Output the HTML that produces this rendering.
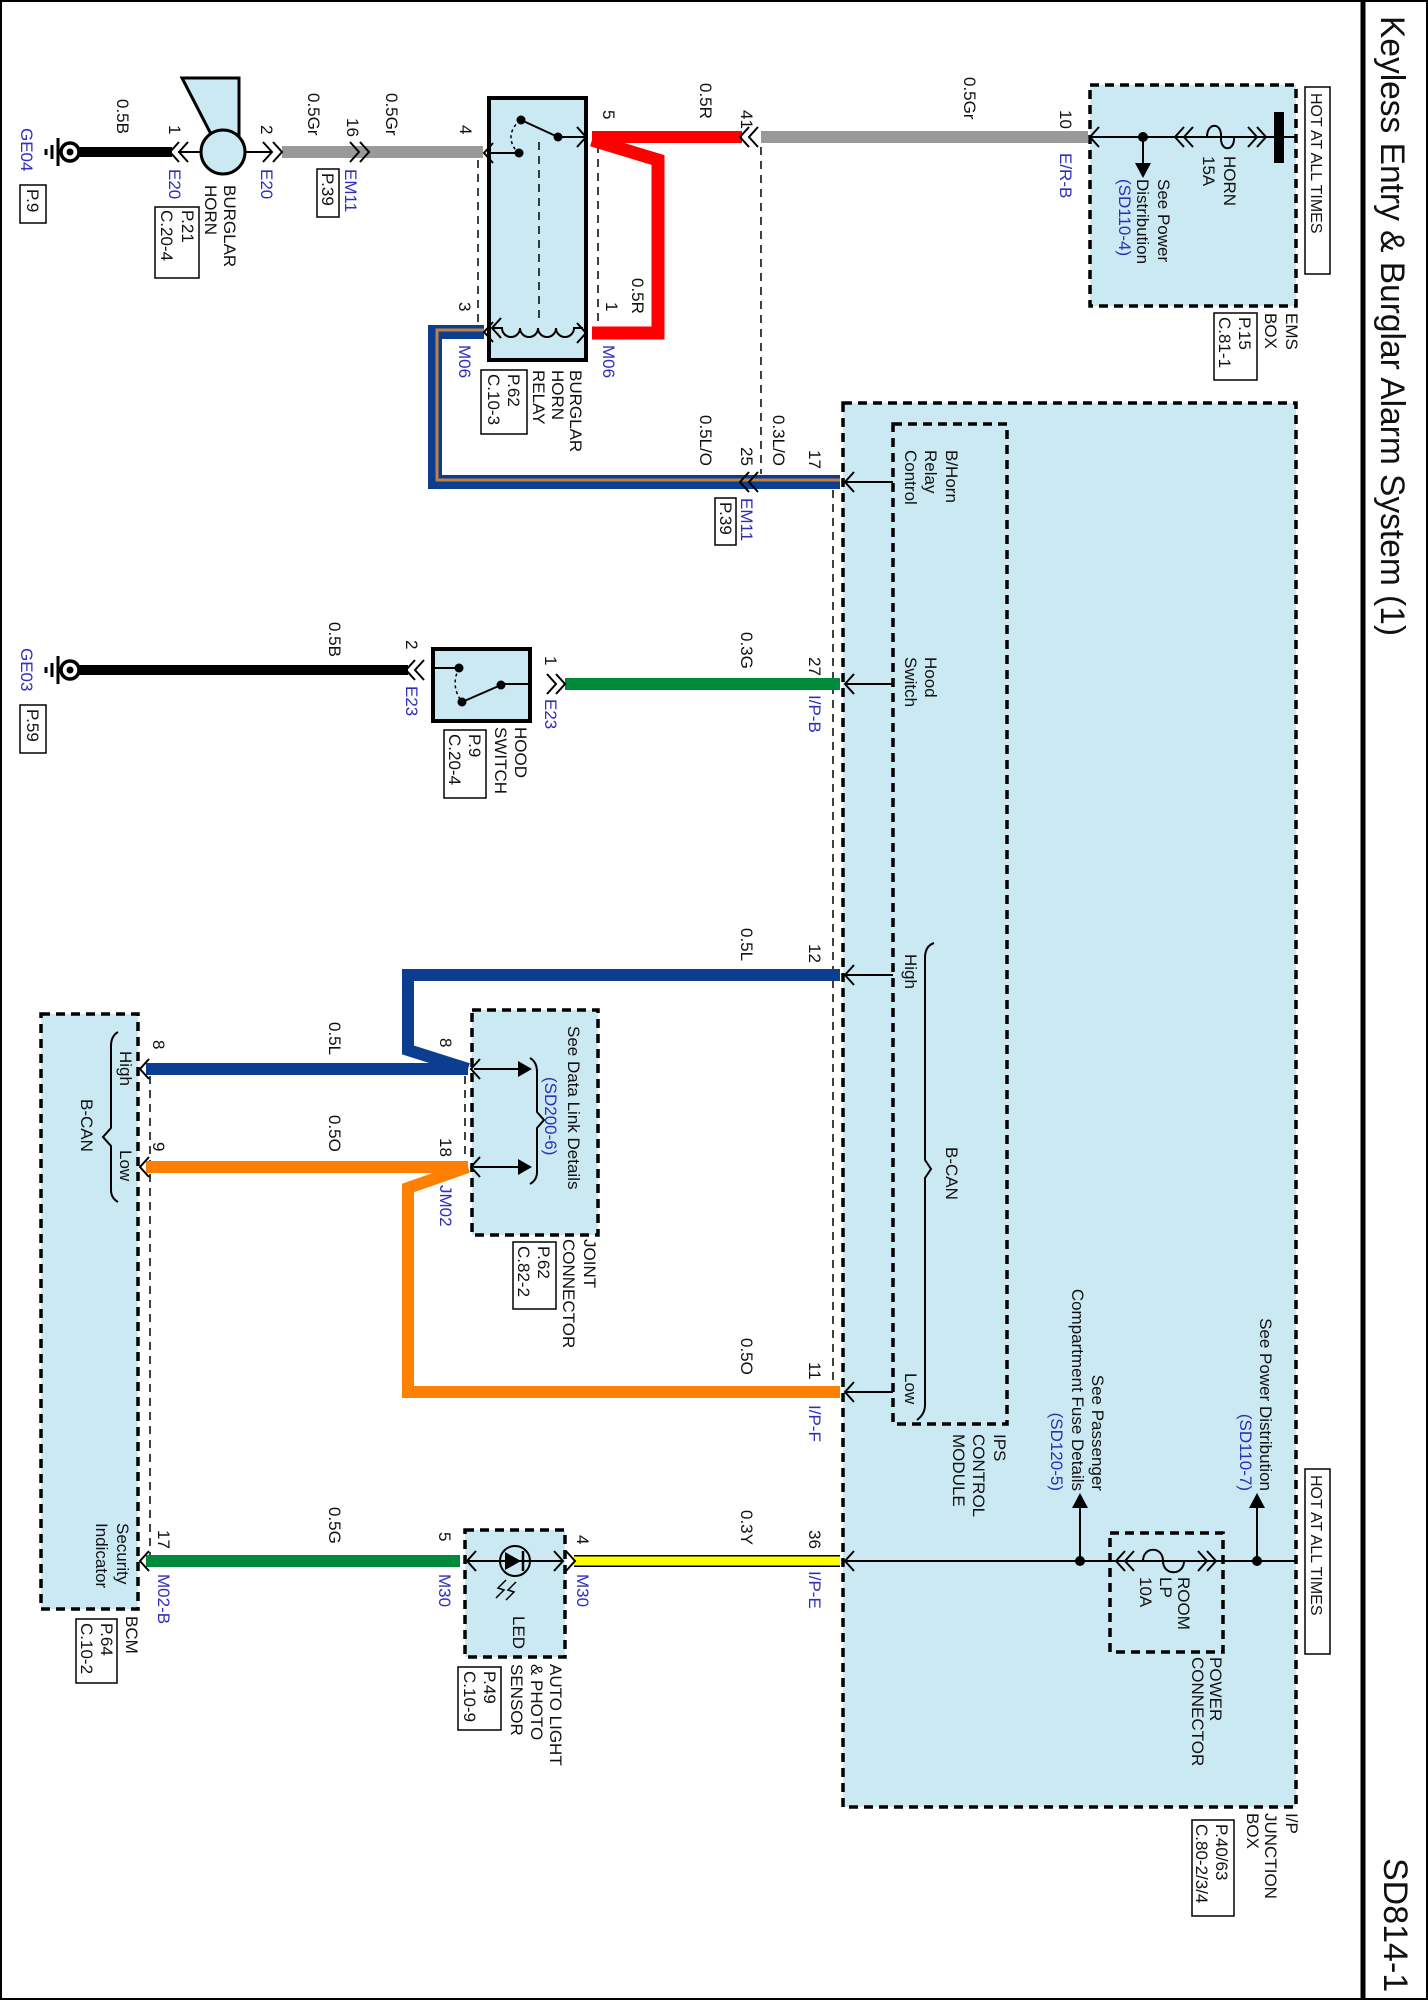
<!DOCTYPE html>
<html><head><meta charset="utf-8"><style>
html,body{margin:0;padding:0;background:#fff}
svg{display:block}
text{font-family:"Liberation Sans",Arial,sans-serif;font-size:17px;fill:#111}
.b{fill:#2e2eb8}
.s{font-size:16px}
.t{font-size:34px}
</style></head><body>
<svg width="1428" height="2000" viewBox="0 0 1428 2000" xmlns="http://www.w3.org/2000/svg">
<rect x="1" y="1" width="1426" height="1998" fill="#fff" stroke="#000" stroke-width="2"/>
<line x1="1363" y1="0" x2="1363" y2="2000" stroke="#000" stroke-width="5"/>

<g fill="#cbe9f2" stroke="#000" stroke-width="3.5" stroke-dasharray="9,6">
<rect x="1090" y="85" width="206" height="221"/>
<rect x="843" y="403" width="453" height="1404"/>
<rect x="41" y="1014" width="97" height="595"/>
<rect x="472" y="1010" width="126" height="225"/>
<rect x="465" y="1530" width="100" height="127"/>
</g>
<g fill="none" stroke="#000" stroke-width="3.5" stroke-dasharray="9,6">
<rect x="893" y="424" width="114" height="1000"/>
<rect x="1110" y="1533" width="113" height="119"/>
</g>
<rect x="489" y="98" width="97" height="262" fill="#cbe9f2" stroke="#000" stroke-width="4"/>
<rect x="433" y="649" width="97" height="72" fill="#cbe9f2" stroke="#000" stroke-width="4"/>

<g stroke="#000" stroke-width="1.5" stroke-dasharray="8,6" fill="none">
<line x1="478" y1="160" x2="478" y2="326"/>
<line x1="598" y1="145" x2="598" y2="326"/>
<line x1="539" y1="142" x2="539" y2="322"/>
<line x1="761" y1="147" x2="761" y2="474"/>
<line x1="833" y1="490" x2="833" y2="1386"/>
<line x1="150" y1="1076" x2="150" y2="1555"/>
<line x1="465" y1="1076" x2="465" y2="1160"/>
</g>

<g fill="none" stroke-linejoin="miter">
<path d="M82,152 H172" stroke="#000" stroke-width="10"/>
<path d="M282,152 H483" stroke="#999" stroke-width="12"/>
<path d="M592,137 H742" stroke="#f00" stroke-width="12"/>
<path d="M592,140 L658,160 V333 H592" stroke="#f00" stroke-width="13"/>
<path d="M761,137 H1088" stroke="#999" stroke-width="12"/>
<path d="M484,332 H435 V482 H840" stroke="#0b3d91" stroke-width="14"/>
<path d="M484,330 H437 V480 H840" stroke="#c08040" stroke-width="3"/>
<path d="M82,670 H408" stroke="#000" stroke-width="10"/>
<path d="M565,684 H840" stroke="#008a3c" stroke-width="12"/>
<path d="M840,975 H408 V1050 L468,1069" stroke="#0b3d91" stroke-width="12"/>
<path d="M468,1069 H146" stroke="#0b3d91" stroke-width="12"/>
<path d="M146,1167 H468" stroke="#ff8000" stroke-width="12"/>
<path d="M468,1167 L408,1188 V1392 H840" stroke="#ff8000" stroke-width="12"/>
<path d="M146,1561 H460" stroke="#008a3c" stroke-width="12"/>
<path d="M574,1561 H840" stroke="#000" stroke-width="12"/>
<path d="M574,1561 H840" stroke="#ffff00" stroke-width="9"/>
</g>

<g stroke="#000" stroke-width="2" fill="none">
<line x1="178" y1="152" x2="201" y2="152"/>
<line x1="245" y1="152" x2="272" y2="152"/>
<line x1="1090" y1="137" x2="1296" y2="137"/>
<line x1="1143" y1="137" x2="1143" y2="165"/>
<line x1="845" y1="1561" x2="1296" y2="1561"/>
<line x1="1080" y1="1561" x2="1080" y2="1506"/>
<line x1="1257" y1="1561" x2="1257" y2="1506"/>
<line x1="845" y1="482" x2="893" y2="482"/>
<line x1="845" y1="684" x2="893" y2="684"/>
<line x1="845" y1="975" x2="893" y2="975"/>
<line x1="845" y1="1392" x2="893" y2="1392"/>
<line x1="489" y1="153" x2="519" y2="153"/>
<line x1="558" y1="137" x2="586" y2="137"/>
<line x1="521" y1="120" x2="558" y2="137"/>
<path d="M492,328 H502 a9,9 0 0 0 18,0 a9,9 0 0 0 18,0 a9,9 0 0 0 18,0 a9,9 0 0 0 18,0 H583"/>
<line x1="433" y1="668" x2="459" y2="668"/>
<line x1="501" y1="684" x2="530" y2="684"/>
<line x1="501" y1="685" x2="462" y2="702"/>
<line x1="474" y1="1069" x2="520" y2="1069"/>
<line x1="474" y1="1167" x2="520" y2="1167"/>
<line x1="467" y1="1561" x2="563" y2="1561"/>
<path d="M1207,137 C1207,122 1222,122 1221,137 S1235,152 1234,137"/>
<path d="M1143,1561 C1143,1546 1163,1546 1163,1561 S1184,1576 1184,1561"/>
<path d="M934,943 Q925,946 925,958 V1160 L931,1169 L925,1178 V1405 Q925,1414 917,1420"/>
<path d="M118,1032 Q111,1036 111,1046 V1128 L103,1137 L111,1146 V1190 Q111,1198 118,1202"/>
<path d="M530,1058 Q537,1062 537,1072 V1112 L544,1120 L537,1128 V1172 Q537,1180 530,1184"/>
</g>
<g stroke="#000" stroke-width="1.5" stroke-dasharray="3,3" fill="none">
<path d="M520,120 Q503,136 518,153"/>
<path d="M459,668 Q450,686 462,702"/>
</g>

<g stroke="#000" stroke-width="2" fill="none">
<polyline points="179,142 170,152 179,162"/><polyline points="188,142 179,152 188,162"/>
<polyline points="263,142 272,152 263,162"/><polyline points="273,142 282,152 273,162"/>
<polyline points="350,142 359,152 350,162"/><polyline points="360,142 369,152 360,162"/>
<polyline points="493,143 484,153 493,163"/>
<polyline points="749,127 740,137 749,147"/><polyline points="758,127 749,137 758,147"/>
<polyline points="1099,127 1090,137 1099,147"/>
<polyline points="577,127 586,137 577,147"/>
<polyline points="577,323 586,333 577,343"/>
<polyline points="493,322 484,332 493,342"/>
<polyline points="501,318 492,328 501,338"/>
<polyline points="749,472 740,482 749,492"/><polyline points="758,472 749,482 758,492"/>
<polyline points="854,472 845,482 854,492"/>
<polyline points="415,660 406,670 415,680"/><polyline points="424,660 415,670 424,680"/>
<polyline points="547,674 556,684 547,694"/><polyline points="556,674 565,684 556,694"/>
<polyline points="854,674 845,684 854,694"/>
<polyline points="854,965 845,975 854,985"/>
<polyline points="854,1382 845,1392 854,1402"/>
<polyline points="854,1551 845,1561 854,1571"/>
<polyline points="480,1059 471,1069 480,1079"/>
<polyline points="480,1157 471,1167 480,1177"/>
<polyline points="149,1059 140,1069 149,1079"/>
<polyline points="149,1157 140,1167 149,1177"/>
<polyline points="149,1551 140,1561 149,1571"/>
<polyline points="476,1551 467,1561 476,1571"/>
<polyline points="554,1551 563,1561 554,1571"/>
<polyline points="566,1551 575,1561 566,1571"/>
<polyline points="1184,127 1175,137 1184,147"/><polyline points="1193,127 1184,137 1193,147"/>
<polyline points="1248,127 1257,137 1248,147"/><polyline points="1257,127 1266,137 1257,147"/>
<polyline points="1125,1551 1116,1561 1125,1571"/><polyline points="1134,1551 1125,1561 1134,1571"/>
<polyline points="1198,1551 1207,1561 1198,1571"/><polyline points="1207,1551 1216,1561 1207,1571"/>
</g>

<g fill="#000">
<circle cx="1143" cy="137" r="5"/>
<polygon points="1135,163 1151,163 1143,178"/>
<rect x="1274" y="112" width="10" height="51"/>
<circle cx="1080" cy="1561" r="5"/><circle cx="1257" cy="1561" r="5"/>
<polygon points="1072,1508 1088,1508 1080,1493"/>
<polygon points="1249,1508 1265,1508 1257,1493"/>
<circle cx="521" cy="120" r="4.5"/><circle cx="519" cy="153" r="4.5"/><circle cx="558" cy="137" r="4.5"/>
<circle cx="459" cy="668" r="4.5"/><circle cx="501" cy="685" r="4.5"/><circle cx="462" cy="702" r="4.5"/>
<polygon points="518,1061 532,1069 518,1077"/>
<polygon points="518,1159 532,1167 518,1175"/>
</g>

<polygon points="182,78 239,78 239,138 213,138" fill="#cbe9f2" stroke="#000" stroke-width="3"/>
<circle cx="223" cy="152" r="22" fill="#cbe9f2" stroke="#000" stroke-width="3"/>

<g stroke="#000" fill="none">
<line x1="82" y1="152" x2="72" y2="152" stroke-width="10"/>
<circle cx="70" cy="152" r="9" stroke-width="3.5" fill="#fff"/>
<circle cx="70" cy="152" r="3" fill="#000"/>
<line x1="58" y1="138" x2="58" y2="166" stroke-width="3"/>
<line x1="52" y1="145" x2="52" y2="159" stroke-width="3"/>
<line x1="46" y1="149" x2="46" y2="155" stroke-width="3"/>
<line x1="82" y1="670" x2="72" y2="670" stroke-width="10"/>
<circle cx="70" cy="670" r="9" stroke-width="3.5" fill="#fff"/>
<circle cx="70" cy="670" r="3" fill="#000"/>
<line x1="58" y1="656" x2="58" y2="684" stroke-width="3"/>
<line x1="52" y1="663" x2="52" y2="677" stroke-width="3"/>
<line x1="46" y1="667" x2="46" y2="673" stroke-width="3"/>
</g>

<circle cx="515" cy="1561" r="15" fill="none" stroke="#000" stroke-width="2"/>
<polygon points="505,1552 505,1570 521,1561" fill="#000"/>
<line x1="523" y1="1551" x2="523" y2="1571" stroke="#000" stroke-width="2.5"/>
<g stroke="#000" stroke-width="1.5" fill="none">
<polyline points="506,1580 498,1588 504,1590 496,1598"/>
<polyline points="516,1582 508,1590 514,1592 506,1600"/>
</g>

<g fill="none" stroke="#000" stroke-width="1.5">
<rect x="20" y="185" width="26" height="38"/>
<rect x="155" y="207" width="44" height="71"/>
<rect x="317" y="169" width="22" height="48"/>
<rect x="481" y="370" width="46" height="64"/>
<rect x="1305" y="87" width="25" height="187"/>
<rect x="1214" y="313" width="43" height="67"/>
<rect x="715" y="498" width="21" height="47"/>
<rect x="20" y="705" width="26" height="48"/>
<rect x="444" y="730" width="42" height="68"/>
<rect x="513" y="1242" width="43" height="67"/>
<rect x="1305" y="1469" width="25" height="185"/>
<rect x="1192" y="1820" width="42" height="96"/>
<rect x="76" y="1619" width="41" height="64"/>
<rect x="458" y="1667" width="43" height="63"/>
</g>

<g>
<text class="t" transform="translate(1381,16) rotate(90)" textLength="620" lengthAdjust="spacingAndGlyphs">Keyless Entry &amp; Burglar Alarm System (1)</text>
<text class="t" transform="translate(1384,1858) rotate(90)">SD814-1</text>

<text transform="translate(117,99) rotate(90)">0.5B</text>
<text class="b" transform="translate(21,128) rotate(90)">GE04</text>
<text transform="translate(27,189) rotate(90)">P.9</text>
<text transform="translate(169,125) rotate(90)">1</text>
<text class="b" transform="translate(169,169) rotate(90)">E20</text>
<text transform="translate(182,210) rotate(90)">P.21</text>
<text transform="translate(161,210) rotate(90)">C.20-4</text>
<text transform="translate(224,185) rotate(90)">BURGLAR</text>
<text transform="translate(205,185) rotate(90)">HORN</text>
<text transform="translate(261,125) rotate(90)">2</text>
<text class="b" transform="translate(261,169) rotate(90)">E20</text>
<text transform="translate(308,93) rotate(90)">0.5Gr</text>
<text transform="translate(347,118) rotate(90)">16</text>
<text class="b" transform="translate(345,169) rotate(90)">EM11</text>
<text transform="translate(322,173) rotate(90)">P.39</text>
<text transform="translate(386,93) rotate(90)">0.5Gr</text>
<text transform="translate(460,125) rotate(90)">4</text>
<text transform="translate(603,110) rotate(90)">5</text>
<text transform="translate(700,83) rotate(90)">0.5R</text>
<text transform="translate(741,110) rotate(90)">41</text>
<text transform="translate(632,278) rotate(90)">0.5R</text>
<text transform="translate(606,302) rotate(90)">1</text>
<text transform="translate(459,302) rotate(90)">3</text>
<text class="b" transform="translate(603,345) rotate(90)">M06</text>
<text class="b" transform="translate(459,345) rotate(90)">M06</text>
<text transform="translate(570,370) rotate(90)">BURGLAR</text>
<text transform="translate(552,370) rotate(90)">HORN</text>
<text transform="translate(533,370) rotate(90)">RELAY</text>
<text transform="translate(508,374) rotate(90)">P.62</text>
<text transform="translate(488,374) rotate(90)">C.10-3</text>
<text transform="translate(964,77) rotate(90)">0.5Gr</text>
<text transform="translate(1060,110) rotate(90)">10</text>
<text class="b" transform="translate(1060,153) rotate(90)">E/R-B</text>
<text transform="translate(1224,156) rotate(90)">HORN</text>
<text transform="translate(1203,156) rotate(90)">15A</text>
<text transform="translate(1158,179) rotate(90)">See Power</text>
<text transform="translate(1137,179) rotate(90)">Distribution</text>
<text class="b" transform="translate(1119,179) rotate(90)">(SD110-4)</text>
<text class="s" transform="translate(1311,93) rotate(90)">HOT AT ALL TIMES</text>
<text transform="translate(1286,313) rotate(90)">EMS</text>
<text transform="translate(1265,313) rotate(90)">BOX</text>
<text transform="translate(1239,317) rotate(90)">P.15</text>
<text transform="translate(1219,317) rotate(90)">C.81-1</text>
<text transform="translate(773,415) rotate(90)">0.3L/O</text>
<text transform="translate(809,450) rotate(90)">17</text>
<text transform="translate(741,447) rotate(90)">25</text>
<text transform="translate(700,415) rotate(90)">0.5L/O</text>
<text class="b" transform="translate(741,498) rotate(90)">EM11</text>
<text transform="translate(720,502) rotate(90)">P.39</text>
<text transform="translate(946,450) rotate(90)">B/Horn</text>
<text transform="translate(925,450) rotate(90)">Relay</text>
<text transform="translate(905,450) rotate(90)">Control</text>
<text transform="translate(329,622) rotate(90)">0.5B</text>
<text class="b" transform="translate(21,648) rotate(90)">GE03</text>
<text transform="translate(27,709) rotate(90)">P.59</text>
<text transform="translate(406,640) rotate(90)">2</text>
<text class="b" transform="translate(406,686) rotate(90)">E23</text>
<text transform="translate(545,656) rotate(90)">1</text>
<text class="b" transform="translate(545,699) rotate(90)">E23</text>
<text transform="translate(515,727) rotate(90)">HOOD</text>
<text transform="translate(495,727) rotate(90)">SWITCH</text>
<text transform="translate(469,734) rotate(90)">P.9</text>
<text transform="translate(449,734) rotate(90)">C.20-4</text>
<text transform="translate(741,632) rotate(90)">0.3G</text>
<text transform="translate(809,657) rotate(90)">27</text>
<text class="b" transform="translate(809,695) rotate(90)">I/P-B</text>
<text transform="translate(925,657) rotate(90)">Hood</text>
<text transform="translate(905,657) rotate(90)">Switch</text>
<text transform="translate(741,928) rotate(90)">0.5L</text>
<text transform="translate(809,944) rotate(90)">12</text>
<text transform="translate(905,954) rotate(90)">High</text>

<text transform="translate(440,1038) rotate(90)">8</text>
<text transform="translate(153,1040) rotate(90)">8</text>
<text transform="translate(329,1022) rotate(90)">0.5L</text>
<text transform="translate(120,1051) rotate(90)">High</text>
<text transform="translate(81,1099) rotate(90)">B-CAN</text>
<text transform="translate(120,1150) rotate(90)">Low</text>
<text transform="translate(153,1142) rotate(90)">9</text>
<text transform="translate(440,1138) rotate(90)">18</text>
<text transform="translate(329,1115) rotate(90)">0.5O</text>
<text class="b" transform="translate(440,1185) rotate(90)">JM02</text>
<text transform="translate(568,1026) rotate(90)">See Data Link Details</text>
<text class="b" transform="translate(545,1077) rotate(90)">(SD200-6)</text>
<text transform="translate(584,1239) rotate(90)">JOINT</text>
<text transform="translate(563,1239) rotate(90)">CONNECTOR</text>
<text transform="translate(538,1246) rotate(90)">P.62</text>
<text transform="translate(518,1246) rotate(90)">C.82-2</text>
<text transform="translate(741,1338) rotate(90)">0.5O</text>
<text transform="translate(809,1362) rotate(90)">11</text>
<text class="b" transform="translate(809,1405) rotate(90)">I/P-F</text>
<text transform="translate(905,1373) rotate(90)">Low</text>
<text transform="translate(946,1147) rotate(90)">B-CAN</text>
<text transform="translate(994,1434) rotate(90)">IPS</text>
<text transform="translate(973,1434) rotate(90)">CONTROL</text>
<text transform="translate(953,1434) rotate(90)">MODULE</text>
<text transform="translate(1092,1491) rotate(90)" text-anchor="end">See Passenger</text>
<text transform="translate(1072,1491) rotate(90)" text-anchor="end">Compartment Fuse Details</text>
<text class="b" transform="translate(1051,1491) rotate(90)" text-anchor="end">(SD120-5)</text>
<text transform="translate(1260,1491) rotate(90)" text-anchor="end">See Power Distribution</text>
<text class="b" transform="translate(1240,1491) rotate(90)" text-anchor="end">(SD110-7)</text>
<text class="s" transform="translate(1311,1475) rotate(90)">HOT AT ALL TIMES</text>
<text transform="translate(1178,1577) rotate(90)">ROOM</text>
<text transform="translate(1160,1577) rotate(90)">LP</text>
<text transform="translate(1140,1577) rotate(90)">10A</text>
<text transform="translate(1210,1657) rotate(90)">POWER</text>
<text transform="translate(1192,1657) rotate(90)">CONNECTOR</text>
<text transform="translate(1286,1813) rotate(90)">I/P</text>
<text transform="translate(1265,1813) rotate(90)">JUNCTION</text>
<text transform="translate(1247,1813) rotate(90)">BOX</text>
<text transform="translate(1216,1824) rotate(90)">P.40/63</text>
<text transform="translate(1196,1824) rotate(90)">C.80-2/3/4</text>
<text transform="translate(741,1510) rotate(90)">0.3Y</text>
<text transform="translate(809,1530) rotate(90)">36</text>
<text class="b" transform="translate(809,1571) rotate(90)">I/P-E</text>
<text transform="translate(513,1616) rotate(90)">LED</text>
<text transform="translate(577,1535) rotate(90)">4</text>
<text class="b" transform="translate(577,1574) rotate(90)">M30</text>
<text transform="translate(439,1532) rotate(90)">5</text>
<text class="b" transform="translate(439,1574) rotate(90)">M30</text>
<text transform="translate(329,1507) rotate(90)">0.5G</text>
<text transform="translate(158,1530) rotate(90)">17</text>
<text class="b" transform="translate(158,1574) rotate(90)">M02-B</text>
<text transform="translate(117,1523) rotate(90)">Security</text>
<text transform="translate(96,1523) rotate(90)">Indicator</text>
<text transform="translate(126,1616) rotate(90)">BCM</text>
<text transform="translate(101,1623) rotate(90)">P.64</text>
<text transform="translate(81,1623) rotate(90)">C.10-2</text>
<text transform="translate(550,1664) rotate(90)">AUTO LIGHT</text>
<text transform="translate(531,1664) rotate(90)">&amp; PHOTO</text>
<text transform="translate(511,1664) rotate(90)">SENSOR</text>
<text transform="translate(484,1671) rotate(90)">P.49</text>
<text transform="translate(464,1671) rotate(90)">C.10-9</text>
</g>
</svg>
</body></html>
